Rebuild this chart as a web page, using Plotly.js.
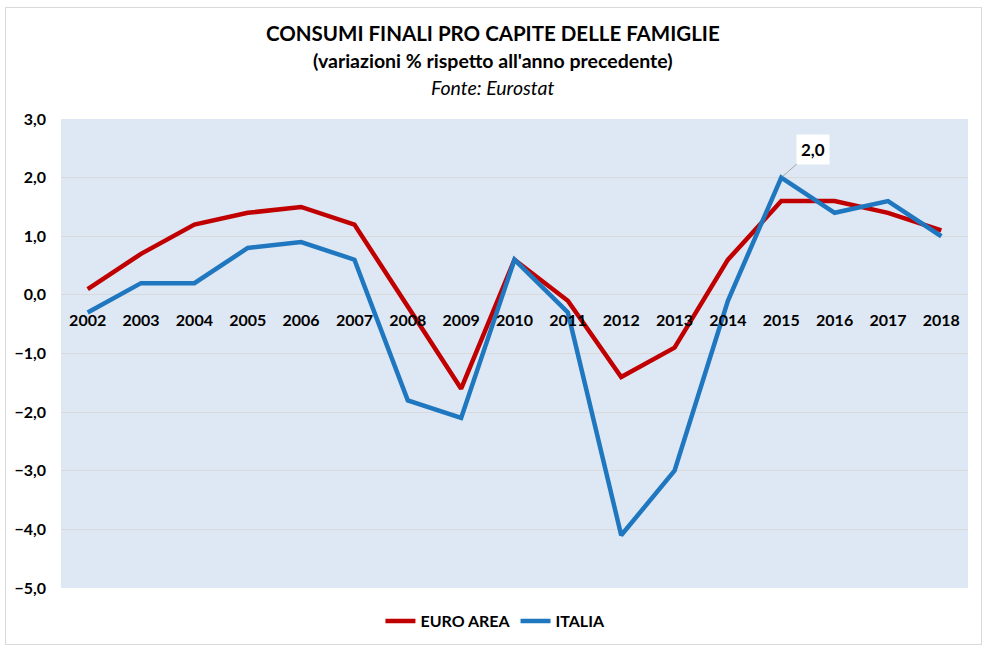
<!DOCTYPE html>
<html>
<head>
<meta charset="utf-8">
<script src="https://cdn.plot.ly/plotly-3.0.1.min.js"></script>
<style>
  body { margin: 0; background: #fff; }
  #chart {
    position: absolute; left: 5px; top: 7px;
    width: 975px; height: 636px;
    border: 1px solid #d9d9d9;
  }
</style>
</head>
<body>
<div id="chart"></div>
<script>
const years = ['2002', '2003', '2004', '2005', '2006', '2007', '2008', '2009', '2010',
  '2011', '2012', '2013', '2014', '2015', '2016', '2017', '2018'];
const euroArea = [0.1, 0.7, 1.2, 1.4, 1.5, 1.2, -0.2, -1.6, 0.6, -0.1, -1.4, -0.9, 0.6, 1.6, 1.6, 1.4, 1.1];
const italia = [-0.3, 0.2, 0.2, 0.8, 0.9, 0.6, -1.8, -2.1, 0.6, -0.3, -4.1, -3.0, -0.1, 2.0, 1.4, 1.6, 1.0];
const yTicks = [3, 2, 1, 0, -1, -2, -3, -4, -5];
const labelIndex = 13; // Italia 2015 carries a data label

const FONT = 'Lato, "Open Sans", sans-serif';
const RED = '#c00000';
const BLUE = '#1f77c0';

const chartEl = document.getElementById('chart');

const traces = [
  {
    x: years, y: euroArea, name: 'EURO AREA',
    type: 'scatter', mode: 'lines',
    line: { color: RED, width: 4.5 },
  },
  {
    x: years, y: italia, name: 'ITALIA',
    type: 'scatter', mode: 'lines',
    line: { color: BLUE, width: 4.5 },
  },
];

// x labels sit just under the zero line
const yMin = -5, yMax = 3;
const zeroPos = (0 - yMin) / (yMax - yMin);

const layout = {
  width: 975,
  height: 636,
  margin: { t: 111, r: 13, b: 56, l: 55 },
  paper_bgcolor: '#ffffff',
  plot_bgcolor: '#dee8f4',
  separators: ',.',
  font: { family: FONT, color: '#000' },
  showlegend: true,
  legend: {
    orientation: 'h',
    xref: 'container', yref: 'container',
    x: 0.502, xanchor: 'center',
    y: 0.036, yanchor: 'middle',
    font: { size: 16, weight: 'bold', color: '#000' },
    itemwidth: 30,
  },
  xaxis: {
    type: 'category',
    range: [-0.5, 16.5],
    anchor: 'free',
    position: zeroPos,
    showgrid: false,
    showline: false,
    zeroline: false,
    ticks: '',
    ticklabelstandoff: 14,
    tickfont: { size: 16, weight: 'bold', color: '#000' },
  },
  yaxis: {
    range: [yMin, yMax],
    tickvals: yTicks,
    tickformat: '.1f',
    showgrid: true,
    gridcolor: '#d9d9d9',
    gridwidth: 1,
    zeroline: false,
    showline: false,
    ticks: '',
    ticklabelstandoff: 14,
    tickfont: { size: 16, weight: 'bold', color: '#000' },
  },
  annotations: [
    {
      text: 'CONSUMI FINALI PRO CAPITE DELLE FAMIGLIE',
      xref: 'paper', yref: 'paper', x: 0.4768, y: 1.1834,
      xanchor: 'center', yanchor: 'middle', showarrow: false,
      font: { size: 20.5, weight: 'bold', color: '#000' },
    },
    {
      text: "(variazioni % rispetto all'anno precedente)",
      xref: 'paper', yref: 'paper', x: 0.4768, y: 1.1237,
      xanchor: 'center', yanchor: 'middle', showarrow: false,
      font: { size: 19.5, weight: 'bold', color: '#000' },
    },
    {
      text: '<i>Fonte: Eurostat</i>',
      xref: 'paper', yref: 'paper', x: 0.4768, y: 1.0682,
      xanchor: 'center', yanchor: 'middle', showarrow: false,
      font: { size: 19.5, color: '#000' },
    },
    {
      x: labelIndex, y: italia[labelIndex],
      xref: 'x', yref: 'y',
      text: italia[labelIndex].toFixed(1).replace('.', ','),
      showarrow: true, arrowhead: 0, arrowwidth: 1, arrowcolor: '#a6a6a6',
      ax: 32, ay: -28, standoff: 2,
      bgcolor: '#ffffff', borderpad: 4,
      font: { size: 17, weight: 'bold', color: '#000' },
    },
  ],
};

Plotly.newPlot(chartEl, traces, layout, { displayModeBar: false, staticPlot: true });
</script>
</body>
</html>
